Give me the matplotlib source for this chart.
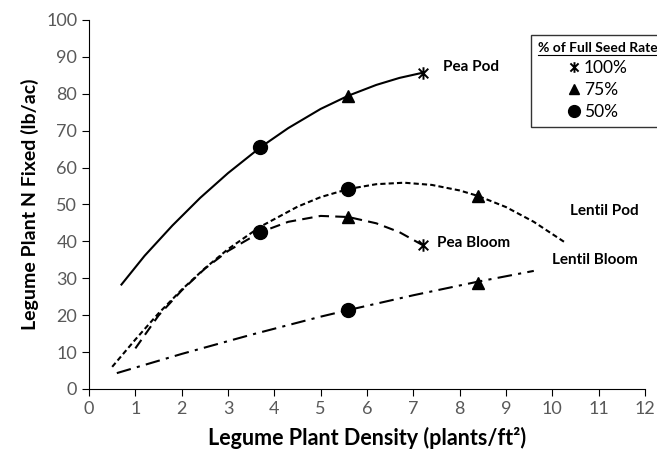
import numpy as np
import matplotlib.pyplot as plt
from matplotlib.path import Path
from matplotlib.lines import Line2D

plt.rcParams['font.family'] = ['Lato', 'DejaVu Sans']

# trend curves
pea_pod_x = [0.7, 1.2, 1.8, 2.4, 3.0, 3.7, 4.3, 5.0, 5.6, 6.2, 6.7, 7.2]
pea_pod_y = [28.3, 36.1, 44.3, 51.8, 58.5, 65.5, 70.7, 75.9, 79.5, 82.4, 84.3, 85.7]

pea_bloom_x = [1.0, 1.5, 2.0, 2.5, 3.0, 3.7, 4.3, 5.0, 5.6, 6.2, 6.7, 7.2]
pea_bloom_y = [11.0, 19.9, 26.7, 32.6, 37.4, 42.5, 45.3, 46.9, 46.6, 44.9, 42.5, 39.0]

lentil_pod_x = [0.5, 1.0, 1.5, 2.0, 2.5, 3.0, 3.7, 4.5, 5.0, 5.6, 6.2, 6.8, 7.4, 8.0, 8.4, 9.0, 9.6, 10.3]
lentil_pod_y = [6.0, 13.4, 20.5, 26.9, 32.7, 37.9, 44.0, 49.4, 52.0, 54.2, 55.5, 55.9, 55.3, 53.8, 52.3, 49.3, 45.3, 39.5]

lentil_bloom_x = [0.6, 2.0, 3.5, 5.0, 5.6, 7.0, 8.4, 9.6]
lentil_bloom_y = [4.3, 9.5, 14.7, 19.6, 21.4, 25.4, 29.1, 32.0]

# measured points by seed rate
full_x, full_y = [7.2, 7.2], [85.6, 39.0]
r75_x, r75_y = [5.6, 5.6, 8.4, 8.4], [79.3, 46.6, 52.3, 28.7]
r50_x, r50_y = [3.7, 3.7, 5.6, 5.6], [65.5, 42.5, 54.2, 21.4]

# excel style asterisk: an x with a vertical bar
star = Path([(-1, -1), (1, 1), (-1, 1), (1, -1), (0, -1.3), (0, 1.3)],
            [Path.MOVETO, Path.LINETO, Path.MOVETO, Path.LINETO, Path.MOVETO, Path.LINETO])

fig = plt.figure(figsize=(6.57, 4.5), dpi=100)
ax = fig.add_axes([0.1355, 0.1356, 0.8462, 0.82])

ax.plot(pea_pod_x, pea_pod_y, color='black', lw=1.5, ls='-')
ax.plot(pea_bloom_x, pea_bloom_y, color='black', lw=1.5, ls=(0, (5, 3)))
ax.plot(lentil_pod_x, lentil_pod_y, color='black', lw=1.5, ls=(0, (2.5, 1.5)))
ax.plot(lentil_bloom_x, lentil_bloom_y, color='black', lw=1.5, ls=(0, (7, 3, 1.5, 3)))

ax.plot(full_x, full_y, ls='none', marker=star, ms=9, mfc='none', mec='black', mew=1.4,
        label='100%')
ax.plot(r75_x, r75_y, ls='none', marker='^', ms=9, color='black', label='75%')
ax.plot(r50_x, r50_y, ls='none', marker='o', ms=10, color='black', label='50%')

lab = dict(fontsize=11, fontweight='bold', va='center', ha='left')
ax.text(7.64, 87.2, 'Pea Pod', **lab)
ax.text(7.51, 39.5, 'Pea Bloom', **lab)
ax.text(10.38, 48.2, 'Lentil Pod', **lab)
ax.text(9.99, 35.0, 'Lentil Bloom', **lab)

ax.set_xlim(0, 12)
ax.set_ylim(0, 100)
ax.set_xticks(np.arange(0, 13, 1))
ax.set_yticks(np.arange(0, 101, 10))
ax.spines['top'].set_visible(False)
ax.spines['right'].set_visible(False)
ax.tick_params(labelsize=13, labelcolor='#595959', length=5, width=0.8)
ax.set_xlabel('Legume Plant Density (plants/ft²)', fontsize=15.5, fontweight='bold', labelpad=7)
ax.set_ylabel('Legume Plant N Fixed (lb/ac)', fontsize=14, fontweight='bold', labelpad=5)

leg = ax.legend(title='% of Full Seed Rate', loc='upper left',
                bbox_to_anchor=(531 / 657, 1 - 35 / 450), bbox_transform=fig.transFigure,
                borderaxespad=0, fontsize=12.5, title_fontproperties={'weight': 'bold', 'size': 10},
                frameon=True, fancybox=False, edgecolor='black', handlelength=0.7,
                handletextpad=0.2, labelspacing=0.35, borderpad=0.4, markerscale=0.85)
leg.get_frame().set_linewidth(1.0)

# underline the legend title
fig.canvas.draw()
bb = leg.get_title().get_window_extent().transformed(fig.transFigure.inverted())
fig.add_artist(Line2D([bb.x0, bb.x1], [bb.y0 - 0.002, bb.y0 - 0.002], color='black', lw=0.8,
                      transform=fig.transFigure))

fig.savefig('out.png', dpi=100)
